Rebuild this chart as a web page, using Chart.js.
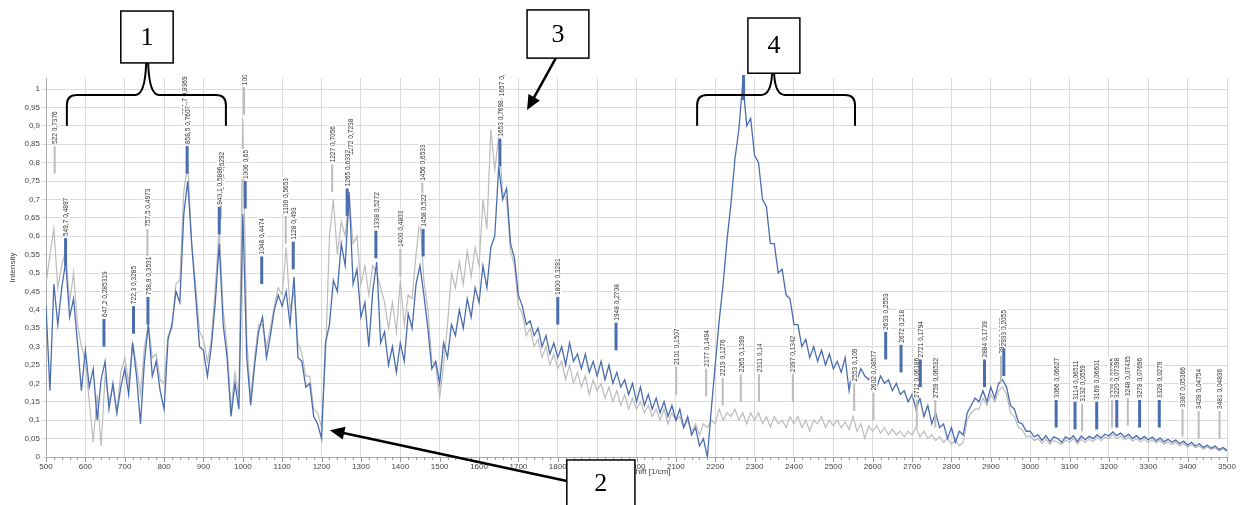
<!DOCTYPE html>
<html>
<head>
<meta charset="utf-8">
<script src="https://cdn.jsdelivr.net/npm/chart.js@4.4.1/dist/chart.umd.min.js"></script>
<style>
  html, body { margin: 0; padding: 0; background: #fff; }
  #wrap { width: 1244px; height: 505px; }
</style>
</head>
<body>
<div id="wrap"><canvas id="ramanChart" width="1244" height="505"></canvas></div>
<script>
// Raman shift positions (1/cm)
const shifts = [
  500, 510, 520, 530, 540, 550, 560, 570, 580, 590,
  600, 610, 620, 630, 640, 650, 660, 670, 680, 690,
  700, 710, 720, 730, 740, 750, 760, 770, 780, 790,
  800, 810, 820, 830, 840, 850, 860, 870, 880, 890,
  900, 910, 920, 930, 940, 950, 960, 970, 980, 990,
  1000, 1010, 1020, 1030, 1040, 1050, 1060, 1070, 1080, 1090,
  1100, 1110, 1120, 1130, 1140, 1150, 1160, 1170, 1180, 1190,
  1200, 1210, 1220, 1230, 1240, 1250, 1260, 1270, 1280, 1290,
  1300, 1310, 1320, 1330, 1340, 1350, 1360, 1370, 1380, 1390,
  1400, 1410, 1420, 1430, 1440, 1450, 1460, 1470, 1480, 1490,
  1500, 1510, 1520, 1530, 1540, 1550, 1560, 1570, 1580, 1590,
  1600, 1610, 1620, 1630, 1640, 1650, 1660, 1670, 1680, 1690,
  1700, 1710, 1720, 1730, 1740, 1750, 1760, 1770, 1780, 1790,
  1800, 1810, 1820, 1830, 1840, 1850, 1860, 1870, 1880, 1890,
  1900, 1910, 1920, 1930, 1940, 1950, 1960, 1970, 1980, 1990,
  2000, 2010, 2020, 2030, 2040, 2050, 2060, 2070, 2080, 2090,
  2100, 2110, 2120, 2130, 2140, 2150, 2160, 2170, 2180, 2190,
  2200, 2210, 2220, 2230, 2240, 2250, 2260, 2270, 2280, 2290,
  2300, 2310, 2320, 2330, 2340, 2350, 2360, 2370, 2380, 2390,
  2400, 2410, 2420, 2430, 2440, 2450, 2460, 2470, 2480, 2490,
  2500, 2510, 2520, 2530, 2540, 2550, 2560, 2570, 2580, 2590,
  2600, 2610, 2620, 2630, 2640, 2650, 2660, 2670, 2680, 2690,
  2700, 2710, 2720, 2730, 2740, 2750, 2760, 2770, 2780, 2790,
  2800, 2810, 2820, 2830, 2840, 2850, 2860, 2870, 2880, 2890,
  2900, 2910, 2920, 2930, 2940, 2950, 2960, 2970, 2980, 2990,
  3000, 3010, 3020, 3030, 3040, 3050, 3060, 3070, 3080, 3090,
  3100, 3110, 3120, 3130, 3140, 3150, 3160, 3170, 3180, 3190,
  3200, 3210, 3220, 3230, 3240, 3250, 3260, 3270, 3280, 3290,
  3300, 3310, 3320, 3330, 3340, 3350, 3360, 3370, 3380, 3390,
  3400, 3410, 3420, 3430, 3440, 3450, 3460, 3470, 3480, 3490,
  3500
];

// blue spectrum
const intensityBlue = [
  0.41, 0.18, 0.47, 0.36, 0.46, 0.53, 0.38, 0.43, 0.31, 0.18,
  0.29, 0.19, 0.24, 0.1, 0.21, 0.26, 0.13, 0.2, 0.12, 0.19,
  0.24, 0.17, 0.31, 0.22, 0.09, 0.26, 0.36, 0.22, 0.26, 0.18,
  0.13, 0.32, 0.36, 0.45, 0.42, 0.66, 0.75, 0.58, 0.44, 0.3,
  0.29, 0.22, 0.3, 0.42, 0.58, 0.36, 0.27, 0.11, 0.2, 0.13,
  0.66, 0.27, 0.14, 0.25, 0.34, 0.38, 0.27, 0.33, 0.4, 0.44,
  0.41, 0.45, 0.36, 0.49, 0.27, 0.26, 0.19, 0.2, 0.11, 0.09,
  0.05, 0.31, 0.36, 0.48, 0.45, 0.58, 0.52, 0.72, 0.47, 0.51,
  0.38, 0.42, 0.3, 0.45, 0.53, 0.31, 0.34, 0.25, 0.3, 0.23,
  0.31, 0.26, 0.39, 0.35, 0.47, 0.52, 0.44, 0.35, 0.24, 0.26,
  0.2, 0.31, 0.27, 0.36, 0.33, 0.4, 0.35, 0.43, 0.38, 0.46,
  0.42, 0.52, 0.46, 0.57, 0.6, 0.79, 0.7, 0.73, 0.58, 0.54,
  0.44, 0.41, 0.36, 0.37, 0.33, 0.35, 0.3, 0.33, 0.28, 0.31,
  0.27, 0.3, 0.25, 0.31, 0.26, 0.28, 0.24, 0.28, 0.23, 0.26,
  0.22, 0.26, 0.21, 0.25, 0.2, 0.23, 0.19, 0.21, 0.17, 0.2,
  0.15, 0.19, 0.14, 0.17, 0.13, 0.16, 0.12, 0.15, 0.11, 0.14,
  0.1, 0.13, 0.08, 0.11, 0.06, 0.08, 0.03, 0.05, 0.0, 0.13,
  0.25, 0.37, 0.47, 0.59, 0.69, 0.81, 0.89, 1.02, 0.9, 0.92,
  0.82, 0.8, 0.7, 0.68, 0.58, 0.58, 0.5, 0.51, 0.44, 0.43,
  0.36, 0.36, 0.3, 0.32, 0.27, 0.3, 0.26, 0.29, 0.25, 0.28,
  0.24, 0.26, 0.23, 0.27, 0.18, 0.25, 0.21, 0.24, 0.22, 0.21,
  0.23, 0.19, 0.22, 0.2, 0.21, 0.18, 0.2, 0.17, 0.18, 0.15,
  0.17, 0.13, 0.16, 0.11, 0.14, 0.09, 0.12, 0.08, 0.09, 0.05,
  0.08, 0.04, 0.07, 0.06, 0.12, 0.14, 0.16, 0.15, 0.18, 0.15,
  0.19, 0.16, 0.2, 0.21, 0.19, 0.14, 0.13, 0.095, 0.09, 0.07,
  0.07, 0.055, 0.06, 0.045, 0.058, 0.042, 0.055, 0.05, 0.04, 0.055,
  0.048, 0.058, 0.042, 0.057, 0.047, 0.056, 0.05, 0.06, 0.052, 0.062,
  0.057, 0.068, 0.058, 0.065, 0.054, 0.062, 0.05, 0.058, 0.048, 0.056,
  0.047, 0.054, 0.044, 0.052, 0.041, 0.048, 0.04, 0.046, 0.036, 0.043,
  0.032, 0.04, 0.03, 0.036, 0.026, 0.032, 0.024, 0.03, 0.02, 0.026,
  0.018
];

// grey spectrum
const intensityGrey = [
  0.47, 0.55, 0.62, 0.46, 0.52, 0.56, 0.42, 0.5, 0.36, 0.3,
  0.26, 0.15, 0.04, 0.17, 0.03, 0.22, 0.15, 0.19, 0.12, 0.23,
  0.27, 0.2, 0.31, 0.25, 0.17, 0.3, 0.36, 0.27, 0.28, 0.21,
  0.2, 0.33, 0.35, 0.47, 0.48, 0.72, 0.8, 0.58, 0.47, 0.34,
  0.32, 0.26, 0.32, 0.46, 0.62, 0.4, 0.3, 0.13, 0.23, 0.16,
  0.92, 0.32, 0.16, 0.27, 0.36, 0.36, 0.3, 0.35, 0.41, 0.46,
  0.44, 0.57, 0.4, 0.45, 0.31, 0.28, 0.22, 0.22, 0.13, 0.12,
  0.08, 0.27, 0.6, 0.7, 0.55, 0.64, 0.6, 0.71, 0.58, 0.6,
  0.47, 0.52, 0.44, 0.52, 0.5, 0.46, 0.42, 0.35, 0.42, 0.34,
  0.48, 0.36, 0.44, 0.43, 0.55, 0.65, 0.48, 0.4, 0.26, 0.25,
  0.16, 0.25, 0.36, 0.5, 0.46, 0.53, 0.47, 0.56, 0.49, 0.57,
  0.52, 0.7, 0.62, 0.89, 0.78, 0.87, 0.72, 0.7, 0.56, 0.52,
  0.41, 0.39, 0.33, 0.35, 0.3, 0.32, 0.27, 0.3, 0.25, 0.28,
  0.24, 0.26, 0.21, 0.25, 0.2, 0.23, 0.19, 0.22, 0.17, 0.21,
  0.18, 0.2, 0.16, 0.19, 0.15, 0.18, 0.14, 0.17, 0.13, 0.16,
  0.13, 0.15, 0.12, 0.14, 0.11, 0.13, 0.1, 0.13, 0.09, 0.12,
  0.1, 0.11, 0.08, 0.1, 0.07, 0.09, 0.06, 0.09, 0.08, 0.1,
  0.09, 0.13, 0.1, 0.12, 0.11, 0.13, 0.1, 0.12, 0.09, 0.12,
  0.1, 0.12, 0.09, 0.11, 0.08, 0.11, 0.09, 0.1, 0.08, 0.11,
  0.09, 0.11, 0.08, 0.1, 0.07, 0.1, 0.09, 0.11, 0.08, 0.1,
  0.085, 0.1, 0.08, 0.095, 0.075, 0.11, 0.07, 0.09, 0.05, 0.085,
  0.07, 0.085, 0.065, 0.08, 0.06, 0.075, 0.06, 0.07, 0.055, 0.07,
  0.06, 0.08, 0.055, 0.07, 0.05, 0.06, 0.045, 0.055, 0.04, 0.05,
  0.035, 0.045, 0.03, 0.04, 0.1, 0.12, 0.13, 0.13, 0.16, 0.14,
  0.17, 0.15, 0.18, 0.19, 0.17, 0.12, 0.11, 0.08, 0.075, 0.055,
  0.058, 0.045, 0.05, 0.037, 0.048, 0.035, 0.045, 0.04, 0.034, 0.046,
  0.04, 0.05, 0.036, 0.048, 0.04, 0.048, 0.043, 0.052, 0.045, 0.054,
  0.05, 0.06, 0.05, 0.057, 0.047, 0.054, 0.043, 0.05, 0.041, 0.048,
  0.04, 0.047, 0.038, 0.045, 0.035, 0.041, 0.034, 0.04, 0.03, 0.036,
  0.027, 0.034, 0.025, 0.03, 0.021, 0.027, 0.02, 0.025, 0.016, 0.022,
  0.015
];

const yTickValues = [0, 0.05, 0.1, 0.15, 0.2, 0.25, 0.3, 0.35, 0.4, 0.45, 0.5,
  0.55, 0.6, 0.65, 0.7, 0.75, 0.8, 0.85, 0.9, 0.95, 1];

// peak markers: position, bar foot (intensity), label
const peakShiftBlue = [549.7, 647.2, 722.3, 758.9, 858.5, 940.1, 1006, 1048, 1128, 1265, 1338, 1458,
  1653, 1800, 1948, 2272, 2633, 2672, 2721, 2884, 2933, 3066, 3114, 3169, 3220, 3278, 3328];
const peakFootBlue = [0.52, 0.30, 0.335, 0.36, 0.77, 0.605, 0.675, 0.47, 0.51, 0.655, 0.54, 0.545,
  0.79, 0.36, 0.29, 0.97, 0.265, 0.23, 0.19, 0.19, 0.22, 0.08, 0.075, 0.075, 0.08, 0.08, 0.08];
const peakLabelBlue = ['549,7 0,4897', '647,2 0,285319', '722,3 0,3285', '758,9 0,3531', '858,5 0,7607',
  '940,1 0,5886', '1006 0,65', '1048 0,4474', '1128 0,493', '1265 0,6332', '1338 0,5272', '1458 0,522',
  '1653 0,7698', '1800 0,3281', '1948 0,2708', '2272 1', '2633 0,2553', '2672 0,218', '2721 0,1794',
  '2884 0,1739', '2933 0,2055', '3066 0,06627', '3114 0,06511', '3169 0,06601', '3220 0,07398',
  '3278 0,07696', '3328 0,0279'];

const peakShiftGrey = [522, 757.5, 851.7, 944.3, 1003, 1109, 1227, 1272, 1400, 1456, 1657, 2101, 2177,
  2219, 2265, 2311, 2397, 2553, 2602, 2712, 2759, 2926, 3132, 3208, 3248, 3387, 3428, 3481];
const peakFootGrey = [0.77, 0.545, 0.85, 0.645, 0.93, 0.58, 0.72, 0.74, 0.49, 0.67, 0.9, 0.17, 0.165,
  0.14, 0.15, 0.15, 0.15, 0.125, 0.10, 0.08, 0.08, 0.2, 0.07, 0.08, 0.085, 0.055, 0.05, 0.05];
const peakLabelGrey = ['522 0,7376', '757,5 0,4973', '851,7 0,8369', '944,3 0,6292', '1003 0,9123',
  '1109 0,5653', '1227 0,7056', '1272 0,7238', '1400 0,4803', '1456 0,6533', '1657 0,8802',
  '2101 0,1507', '2177 0,1494', '2219 0,1276', '2265 0,1399', '2311 0,14', '2397 0,1342',
  '2553 0,109', '2602 0,08577', '2712 0,06186', '2759 0,06532', '2926 0,1865', '3132 0,0559',
  '3208 0,07055', '3248 0,07435', '3387 0,05366', '3428 0,04754', '3481 0,04836'];

const BLUE = '#4a6daf';
const GREY = '#bcbcbc';

function toPoints(ys) {
  return ys.map((y, i) => ({ x: shifts[i], y: y }));
}

function commaNum(v) {
  return String(Number(v.toFixed(2))).replace('.', ',');
}

// vertical peak bars with rotated labels
const peakMarkers = {
  id: 'peakMarkers',
  afterDatasetsDraw(chart) {
    const { ctx, chartArea, scales } = chart;
    const x = scales.x, y = scales.y;
    ctx.save();
    ctx.beginPath();
    ctx.rect(chartArea.left, chartArea.top - 3, chartArea.right - chartArea.left, chartArea.bottom - chartArea.top + 3);
    ctx.clip();

    function drawSet(pos, foot, labels, color, width) {
      pos.forEach((p, i) => {
        const px = x.getPixelForValue(p);
        const y0 = y.getPixelForValue(foot[i]);
        const y1 = y.getPixelForValue(foot[i] + 0.075);
        ctx.strokeStyle = color;
        ctx.lineWidth = width;
        ctx.beginPath();
        ctx.moveTo(px, y0);
        ctx.lineTo(px, y1);
        ctx.stroke();

        ctx.save();
        ctx.translate(px, y1 - 2);
        ctx.rotate(-Math.PI / 2);
        ctx.scale(0.82, 1);
        ctx.font = '8px "Liberation Sans", Arial, sans-serif';
        const w = ctx.measureText(labels[i]).width;
        ctx.fillStyle = '#fff';
        ctx.fillRect(0, -4, w + 1, 8);
        ctx.fillStyle = '#333';
        ctx.textBaseline = 'middle';
        ctx.fillText(labels[i], 0, 0.5);
        ctx.restore();
      });
    }
    drawSet(peakShiftGrey, peakFootGrey, peakLabelGrey, GREY, 2);
    drawSet(peakShiftBlue, peakFootBlue, peakLabelBlue, BLUE, 3);
    ctx.restore();
  }
};

// small ticks on the shift axis
const minorTicks = {
  id: 'minorTicks',
  afterDraw(chart) {
    const { ctx, chartArea, scales } = chart;
    ctx.save();
    ctx.strokeStyle = '#999';
    ctx.lineWidth = 1;
    for (let v = scales.x.min; v <= scales.x.max; v += 20) {
      const px = Math.round(scales.x.getPixelForValue(v)) + 0.5;
      ctx.beginPath();
      ctx.moveTo(px, chartArea.bottom);
      ctx.lineTo(px, chartArea.bottom + (v % 100 === 0 ? 5 : 3));
      ctx.stroke();
    }
    ctx.restore();
  }
};

// numbered boxes, braces and arrows (data units)
const boxes = [
  { text: '1', x0: 690, x1: 823, y0: 1.212, y1: 1.071 },
  { text: '3', x0: 1722, x1: 1879, y0: 1.215, y1: 1.084 },
  { text: '4', x0: 2283, x1: 2415, y0: 1.193, y1: 1.043 },
  { text: '2', x0: 1823, x1: 1996, y0: -0.008, y1: -0.16 }
];
const braces = [
  { x0: 553, x1: 957, xm: 757, yEnd: 0.9, yLine: 0.984, yTip: 1.071 },
  { x0: 2154, x1: 2555, xm: 2347, yEnd: 0.9, yLine: 0.984, yTip: 1.043 }
];
const arrows = [
  { fx: 1795, fy: 1.084, tx: 1722, ty: 0.943 },
  { fx: 1823, fy: -0.065, tx: 1221, ty: 0.073 }
];

const annotations = {
  id: 'annotations',
  afterDraw(chart) {
    const { ctx, scales } = chart;
    const X = v => scales.x.getPixelForValue(v);
    const Y = v => scales.y.getPixelForValue(v);
    ctx.save();
    ctx.strokeStyle = '#000';
    ctx.lineWidth = 2;

    braces.forEach(b => {
      const l = X(b.x0), r = X(b.x1), m = X(b.xm);
      const ye = Y(b.yEnd), yl = Y(b.yLine), yt = Y(b.yTip);
      const rad = 10;
      ctx.beginPath();
      ctx.moveTo(l, ye);
      ctx.lineTo(l, yl + rad);
      ctx.quadraticCurveTo(l, yl, l + rad, yl);
      ctx.lineTo(m - 12, yl);
      ctx.quadraticCurveTo(m - 2, yl, m - 1, yt);
      ctx.moveTo(m + 1, yt);
      ctx.quadraticCurveTo(m + 2, yl, m + 12, yl);
      ctx.lineTo(r - rad, yl);
      ctx.quadraticCurveTo(r, yl, r, yl + rad);
      ctx.lineTo(r, ye);
      ctx.stroke();
    });

    arrows.forEach(a => {
      const fx = X(a.fx), fy = Y(a.fy), tx = X(a.tx), ty = Y(a.ty);
      const ang = Math.atan2(ty - fy, tx - fx);
      const len = 16, half = 0.42;
      ctx.lineWidth = 2.5;
      ctx.beginPath();
      ctx.moveTo(fx, fy);
      ctx.lineTo(tx - Math.cos(ang) * len * 0.8, ty - Math.sin(ang) * len * 0.8);
      ctx.stroke();
      ctx.fillStyle = '#000';
      ctx.beginPath();
      ctx.moveTo(tx, ty);
      ctx.lineTo(tx - len * Math.cos(ang - half), ty - len * Math.sin(ang - half));
      ctx.lineTo(tx - len * Math.cos(ang + half), ty - len * Math.sin(ang + half));
      ctx.closePath();
      ctx.fill();
    });

    boxes.forEach(b => {
      const l = X(b.x0), r = X(b.x1), t = Y(b.y0), btm = Y(b.y1);
      ctx.fillStyle = '#fff';
      ctx.fillRect(l, t, r - l, btm - t);
      ctx.lineWidth = 1.5;
      ctx.strokeRect(l, t, r - l, btm - t);
      ctx.fillStyle = '#000';
      ctx.font = '26px "Liberation Serif", "Times New Roman", serif';
      ctx.textAlign = 'center';
      ctx.textBaseline = 'middle';
      const ty = b.y1 < 0 ? t + 24 : (t + btm) / 2 + 1;
      ctx.fillText(b.text, (l + r) / 2, ty);
    });
    ctx.restore();
  }
};

const ctxRaman = document.getElementById('ramanChart').getContext('2d');

new Chart(ctxRaman, {
  type: 'line',
  data: {
    datasets: [
      {
        label: 'Spectrum A',
        data: toPoints(intensityBlue),
        borderColor: BLUE,
        borderWidth: 1.3,
        pointRadius: 0,
        tension: 0,
        order: 0
      },
      {
        label: 'Spectrum B',
        data: toPoints(intensityGrey),
        borderColor: GREY,
        borderWidth: 1.2,
        pointRadius: 0,
        tension: 0,
        order: 1
      }
    ]
  },
  options: {
    responsive: false,
    animation: false,
    devicePixelRatio: 1,
    layout: { padding: { left: 0, top: 78, right: 17, bottom: 24 } },
    plugins: {
      legend: { display: false },
      tooltip: { enabled: false }
    },
    scales: {
      x: {
        type: 'linear',
        min: 500,
        max: 3500,
        ticks: {
          stepSize: 100,
          autoSkip: false,
          maxRotation: 0,
          color: '#444',
          font: { family: '"Liberation Sans", Arial, sans-serif', size: 8 },
          padding: 5,
          callback: v => String(v)
        },
        grid: { color: '#dadada', tickLength: 0 },
        border: { color: '#aaa' },
        title: {
          display: true,
          text: 'Raman Shift [1/cm]',
          color: '#444',
          font: { family: '"Liberation Sans", Arial, sans-serif', size: 8 },
          padding: { top: 1 }
        },
        afterFit: s => { s.height = 24; }
      },
      y: {
        type: 'linear',
        min: 0,
        max: 1.03,
        afterBuildTicks: s => { s.ticks = yTickValues.map(v => ({ value: v })); },
        ticks: {
          color: '#444',
          font: { family: '"Liberation Sans", Arial, sans-serif', size: 8 },
          padding: 2,
          callback: v => commaNum(v)
        },
        grid: { color: '#dadada', tickLength: 4 },
        border: { color: '#aaa' },
        title: {
          display: true,
          text: 'Intensity',
          color: '#444',
          font: { family: '"Liberation Sans", Arial, sans-serif', size: 8 },
          padding: { top: 8, bottom: 0 }
        },
        afterFit: s => { s.width = 46; }
      }
    }
  },
  plugins: [peakMarkers, minorTicks, annotations]
});
</script>
</body>
</html>
